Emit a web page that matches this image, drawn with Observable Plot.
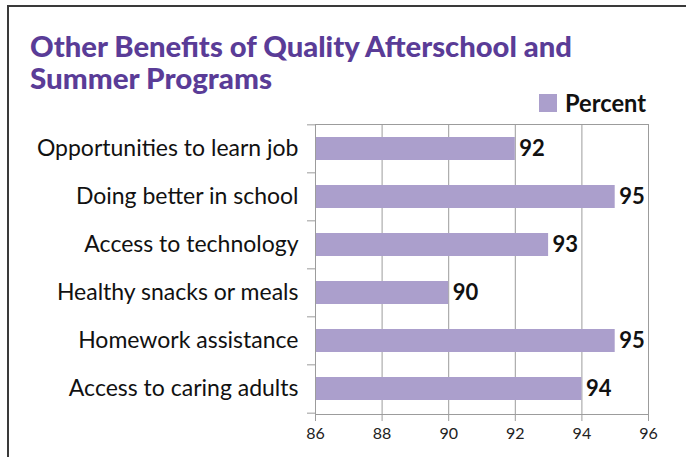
<!DOCTYPE html>
<html><head><meta charset="utf-8">
<script src="https://cdn.jsdelivr.net/npm/d3@7"></script>
<script src="https://cdn.jsdelivr.net/npm/@observablehq/plot@0.6"></script>
<style>
body{margin:0;background:#fff;}
#wrap{position:relative;width:686px;height:457px;overflow:hidden;background:#fff;}
#frame{position:absolute;left:7px;top:5px;width:800px;height:800px;border-left:2px solid #3a3a3a;border-top:2px solid #3a3a3a;pointer-events:none;}
#header{display:block;}
#chart svg{display:block;}
</style></head><body>
<div id="wrap">
<svg id="header" width="686" height="118"></svg>
<div id="chart"></div>
<div id="frame"></div>
</div>
<script>
const categories = ["Opportunities to learn job", "Doing better in school", "Access to technology", "Healthy snacks or meals", "Homework assistance", "Access to caring adults"];
const values = [92, 95, 93, 90, 95, 94];
const xTicks = [86, 88, 90, 92, 94, 96];
const titleLines = ["Other Benefits of Quality Afterschool and", "Summer Programs"];
const legendLabel = "Percent";

const barColor = "#ab9fcc";
const titleColor = "#5a3c97";
const gridColor = "#9c9c9c";

// header: title + legend
const header = d3.select("#header");
const titleWidths = [542, 242];
titleLines.forEach((t, i) => {
  header.append("text")
    .attr("x", 30).attr("y", 57 + i * 32)
    .attr("textLength", titleWidths[i]).attr("lengthAdjust", "spacingAndGlyphs")
    .attr("font-family", "Lato, sans-serif").attr("font-weight", 900)
    .attr("font-size", 29).attr("fill", titleColor)
    .text(t);
});
header.append("rect").attr("x", 539).attr("y", 94).attr("width", 18).attr("height", 18).attr("fill", barColor);
header.append("text").attr("x", 565).attr("y", 112)
  .attr("textLength", 81).attr("lengthAdjust", "spacingAndGlyphs")
  .attr("font-family", "Lato, sans-serif").attr("font-weight", "bold")
  .attr("font-size", 24).attr("fill", "#111").text(legendLabel);

const data = categories.map((c, i) => ({category: c, value: values[i]}));
const W = 686, H = 339, mT = 6, mB = 43, mL = 315, mR = 38;
const step = (H - mT - mB) / categories.length;

const chart = Plot.plot({
  width: W, height: H,
  marginTop: mT, marginBottom: mB, marginLeft: mL, marginRight: mR,
  style: {fontFamily: "Lato, sans-serif", color: "#111", background: "#fff"},
  x: {domain: [xTicks[0], xTicks[xTicks.length - 1]], ticks: xTicks, label: null},
  y: {domain: categories, paddingInner: 0.52, paddingOuter: 0.26, label: null},
  marks: [
    Plot.gridX(xTicks, {stroke: gridColor, strokeOpacity: 1}),
    Plot.frame({anchor: "top", stroke: gridColor}),
    Plot.barX(data, {y: "category", x1: d => xTicks[0], x2: "value", fill: barColor}),
    Plot.axisX({ticks: xTicks, tickSize: 7, tickPadding: 6, fontSize: 16, stroke: gridColor, fill: "#222", label: null}),
    Plot.axisY({tickSize: 0, tickPadding: 17, fontSize: 23, fill: "#111", label: null}),
    Plot.axisY({tickSize: 8, tickFormat: () => "", dy: -step / 2, stroke: gridColor, label: null}),
    Plot.axisY({ticks: [categories[categories.length - 1]], tickSize: 8, tickFormat: () => "", dy: step / 2, stroke: gridColor, label: null}),
    Plot.frame({anchor: "bottom", stroke: gridColor}),
    Plot.frame({anchor: "left", stroke: gridColor}),
    Plot.text(data, {y: "category", x: "value", text: d => String(d.value), textAnchor: "start", dx: 4, fontSize: 22, fontWeight: "bold", fill: "#111"})
  ]
});
document.getElementById("chart").appendChild(chart);
</script>
</body></html>
